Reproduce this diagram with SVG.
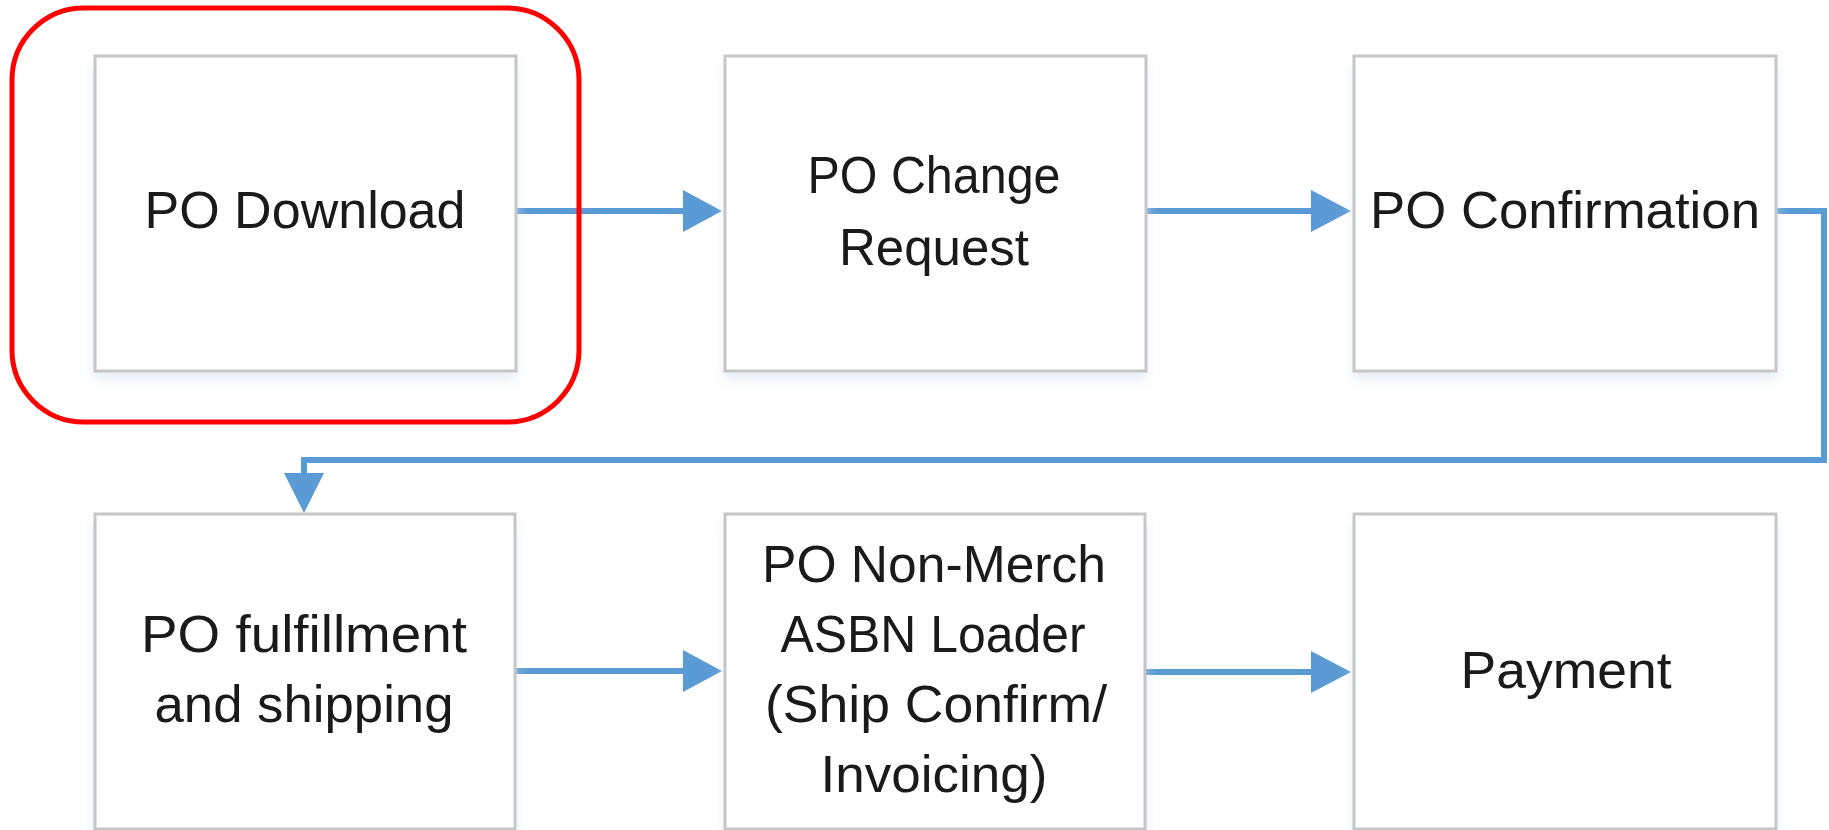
<svg xmlns="http://www.w3.org/2000/svg" width="1829" height="830" viewBox="0 0 1829 830">
<defs>
<style>
.box{fill:#ffffff;stroke:#c6c6c6;stroke-width:3}
.lbl{font-family:"Liberation Sans",Arial,sans-serif;font-size:52px;fill:#1a1a1a;text-anchor:middle}
.con{fill:none;stroke:#5b9bd5;stroke-width:6}
.hl{fill:none;stroke:#ff0000;stroke-width:5}
</style>
<filter id="sh" x="-10%" y="-10%" width="120%" height="125%">
<feGaussianBlur in="SourceAlpha" stdDeviation="6"/>
<feOffset dx="0" dy="8" result="b"/>
<feFlood flood-color="#dbe6f2" flood-opacity="0.6"/>
<feComposite in2="b" operator="in"/>
<feMerge><feMergeNode/><feMergeNode in="SourceGraphic"/></feMerge>
</filter>
<marker id="ah" markerWidth="8" markerHeight="8" refX="7" refY="4" orient="auto" markerUnits="userSpaceOnUse" viewBox="0 0 8 8">
<path d="M0,0 L8,4 L0,8 Z" fill="#5b9bd5"/>
</marker>
</defs>
<rect width="1829" height="830" fill="#ffffff"/>
<g id="connectors">
<path class="con" d="M510,211 H688"/>
<polygon points="683,190 722,211 683,232" fill="#5b9bd5"/>
<path class="con" d="M1140,211 H1316"/>
<polygon points="1311,190 1351,211 1311,232" fill="#5b9bd5"/>
<path class="con" d="M1771,211 H1824 V460 H304 V478"/>
<polygon points="284,473 304,513 324,473" fill="#5b9bd5"/>
<path class="con" d="M511,671 H688"/>
<polygon points="683,650 722,671 683,692" fill="#5b9bd5"/>
<path class="con" d="M1141,672 H1316"/>
<polygon points="1311,651 1351,672 1311,693" fill="#5b9bd5"/>
</g>
<g id="node-po-download">
<rect class="box" x="95" y="56" width="421" height="315" filter="url(#sh)"/>
<text class="lbl" x="305" y="228" textLength="321" lengthAdjust="spacingAndGlyphs">PO Download</text>
</g>
<g id="highlight">
<rect class="hl" x="12" y="8" width="567" height="414" rx="72" ry="72"/>
</g>
<g id="node-po-change-request">
<rect class="box" x="725" y="56" width="421" height="315" filter="url(#sh)"/>
<text class="lbl" x="934" y="193" textLength="253" lengthAdjust="spacingAndGlyphs">PO Change</text>
<text class="lbl" x="934" y="265" textLength="190" lengthAdjust="spacingAndGlyphs">Request</text>
</g>
<g id="node-po-confirmation">
<rect class="box" x="1354" y="56" width="422" height="315" filter="url(#sh)"/>
<text class="lbl" x="1565" y="228" textLength="390" lengthAdjust="spacingAndGlyphs">PO Confirmation</text>
</g>
<g id="node-po-fulfillment">
<rect class="box" x="95" y="514" width="420" height="315" filter="url(#sh)"/>
<text class="lbl" x="304" y="652" textLength="326" lengthAdjust="spacingAndGlyphs">PO fulfillment</text>
<text class="lbl" x="304" y="722" textLength="299" lengthAdjust="spacingAndGlyphs">and shipping</text>
</g>
<g id="node-asbn-loader">
<rect class="box" x="725" y="514" width="420" height="315" filter="url(#sh)"/>
<text class="lbl" x="934" y="582" textLength="344" lengthAdjust="spacingAndGlyphs">PO Non-Merch</text>
<text class="lbl" x="933" y="652" textLength="305" lengthAdjust="spacingAndGlyphs">ASBN Loader</text>
<text class="lbl" x="936" y="722" textLength="342" lengthAdjust="spacingAndGlyphs">(Ship Confirm/</text>
<text class="lbl" x="934" y="792" textLength="227" lengthAdjust="spacingAndGlyphs">Invoicing)</text>
</g>
<g id="node-payment">
<rect class="box" x="1354" y="514" width="422" height="315" filter="url(#sh)"/>
<text class="lbl" x="1566" y="688" textLength="211" lengthAdjust="spacingAndGlyphs">Payment</text>
</g>
</svg>
